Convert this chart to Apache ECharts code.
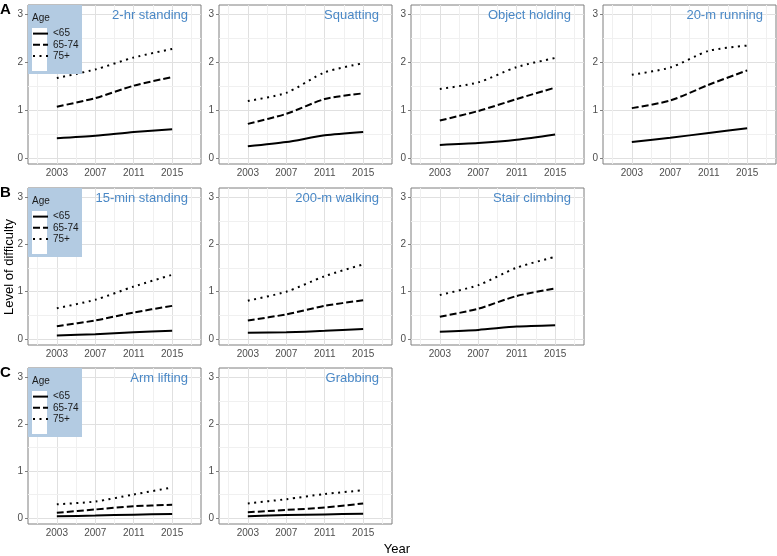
<!DOCTYPE html>
<html>
<head>
<meta charset="utf-8">
<script src="https://cdn.jsdelivr.net/npm/echarts@6/dist/echarts.min.js"></script>
<style>
html,body{margin:0;padding:0;background:#fff;}
#chart{width:777px;height:556px;}
</style>
</head>
<body>
<div id="chart"></div>
<script>
// ---------------- data ----------------
const years = [2003, 2007, 2011, 2015];
const ageGroups = ['<65', '65-74', '75+'];
const panelNames = ['2-hr standing', 'Squatting', 'Object holding', '20-m running',
                    '15-min standing', '200-m walking', 'Stair climbing',
                    'Arm lifting', 'Grabbing'];
// values per panel (same order as panelNames), per year
const under65 = [
  [0.41, 0.46, 0.54, 0.60],
  [0.24, 0.33, 0.47, 0.54],
  [0.27, 0.31, 0.38, 0.49],
  [0.33, 0.42, 0.52, 0.62],
  [0.07, 0.10, 0.14, 0.17],
  [0.13, 0.14, 0.17, 0.21],
  [0.15, 0.19, 0.26, 0.29],
  [0.035, 0.05, 0.07, 0.085],
  [0.035, 0.06, 0.075, 0.09]
];
const age65to74 = [
  [1.07, 1.25, 1.51, 1.69],
  [0.71, 0.92, 1.23, 1.35],
  [0.78, 0.98, 1.23, 1.47],
  [1.04, 1.20, 1.53, 1.83],
  [0.27, 0.39, 0.56, 0.70],
  [0.39, 0.52, 0.70, 0.82],
  [0.47, 0.64, 0.91, 1.07],
  [0.11, 0.18, 0.25, 0.28],
  [0.12, 0.17, 0.22, 0.31]
];
const age75plus = [
  [1.67, 1.85, 2.10, 2.28],
  [1.19, 1.36, 1.79, 1.98],
  [1.44, 1.58, 1.90, 2.09],
  [1.74, 1.89, 2.24, 2.35],
  [0.65, 0.83, 1.11, 1.36],
  [0.81, 1.00, 1.33, 1.58],
  [0.93, 1.14, 1.51, 1.74],
  [0.29, 0.35, 0.50, 0.65],
  [0.31, 0.40, 0.51, 0.59]
];
const xTickLabels = [2003, 2007, 2011, 2015];
const yTickLabels = [0, 1, 2, 3];
const xMinorGrid = [2001, 2005, 2009, 2013, 2017];
const yMinorGrid = [0.5, 1.5, 2.5];
const rowLetters = ['A', 'B', 'C'];
const legendTitle = 'Age';
const xAxisTitle = 'Year';
const yAxisTitle = 'Level of difficulty';

// ---------------- layout ----------------
const FONT = 'Liberation Sans, Arial, Helvetica, sans-serif';
const colLeft = [28, 219, 411, 603];
const panelW = 173;
const rowTop = [5, 188, 368];
const rowH = [159, 157, 156];
const panelPos = [[0,0],[0,1],[0,2],[0,3],[1,0],[1,1],[1,2],[2,0],[2,1]];
const seriesValues = [under65, age65to74, age75plus];
const lineTypes = ['solid', [7, 3], [2, 4.5]];
const TITLE_COLOR = '#4a88c6';
const TICK_COLOR = '#4d4d4d';

const grids = [], xAxes = [], yAxes = [], series = [], titles = [], legends = [], graphics = [];

panelPos.forEach(([r, c], i) => {
  const left = colLeft[c], top = rowTop[r], h = rowH[r];
  grids.push({
    left: left, top: top, width: panelW, height: h,
    show: true, borderColor: '#7f7f7f', borderWidth: 1, backgroundColor: '#fff',
    containLabel: false
  });
  xAxes.push({
    type: 'value', gridIndex: i, min: 2000, max: 2018,
    axisLine: {show: false},
    splitLine: {show: false},
    axisTick: {show: true, length: 3, lineStyle: {color: '#7f7f7f'}, customValues: xTickLabels},
    axisLabel: {customValues: xTickLabels, color: TICK_COLOR, fontSize: 10, fontFamily: FONT, margin: 4,
                formatter: v => String(v)}
  });
  yAxes.push({
    type: 'value', gridIndex: i, min: -0.13, max: 3.2,
    axisLine: {show: false},
    splitLine: {show: false},
    axisTick: {show: true, length: 3, lineStyle: {color: '#7f7f7f'}, customValues: yTickLabels},
    axisLabel: {customValues: yTickLabels, color: TICK_COLOR, fontSize: 10, fontFamily: FONT, margin: 5,
                formatter: v => String(v)}
  });
  const gridLines = [];
  xTickLabels.forEach(v => gridLines.push({xAxis: v, lineStyle: {color: '#e0e0e0', width: 1, type: 'solid'}}));
  yTickLabels.forEach(v => gridLines.push({yAxis: v, lineStyle: {color: '#e0e0e0', width: 1, type: 'solid'}}));
  xMinorGrid.forEach(v => gridLines.push({xAxis: v, lineStyle: {color: '#f0f0f0', width: 1, type: 'solid'}}));
  yMinorGrid.forEach(v => gridLines.push({yAxis: v, lineStyle: {color: '#f0f0f0', width: 1, type: 'solid'}}));

  ageGroups.forEach((g, k) => {
    const s = {
      type: 'line', name: g, xAxisIndex: i, yAxisIndex: i,
      data: years.map((y, j) => [y, seriesValues[k][i][j]]),
      symbol: 'none', smooth: 0.25, z: 3,
      lineStyle: {color: '#000', width: 2, type: lineTypes[k], cap: 'butt'},
      itemStyle: {color: '#000'},
      emphasis: {disabled: true},
      silent: true
    };
    if (k === 0) {
      s.markLine = {silent: true, symbol: ['none', 'none'], label: {show: false}, z: 1,
                    animation: false, emphasis: {disabled: true}, data: gridLines};
    }
    series.push(s);
  });

  titles.push({
    text: panelNames[i], right: 777 - (left + panelW) + 13, top: top + 4, padding: 0,
    textStyle: {color: TITLE_COLOR, fontSize: 13, fontWeight: 'normal', fontFamily: FONT}
  });

  if (c === 0) {
    graphics.push({type: 'rect', z: 20, shape: {x: left, y: top, width: 54, height: 69},
                   style: {fill: '#b3cbe2'}});
    graphics.push({type: 'rect', z: 21, shape: {x: left + 4, y: top + 23, width: 15, height: 43},
                   style: {fill: '#ffffff'}});
    graphics.push({type: 'text', z: 22, x: left + 4, y: top + 13,
                   style: {text: legendTitle, fill: '#1a1a1a', fontSize: 10, fontFamily: FONT,
                           textAlign: 'left', textVerticalAlign: 'middle'}});
    legends.push({
      data: ageGroups, orient: 'vertical', left: left + 4, top: top + 23,
      itemWidth: 15, itemHeight: 14, itemGap: 0, padding: 0, z: 30, selectedMode: false,
      itemStyle: {opacity: 0, borderWidth: 0},
      lineStyle: {width: 2},
      textStyle: {fontSize: 10, color: '#1a1a1a', fontFamily: FONT, padding: [0, 0, 0, 0]}
    });
  }
});

rowLetters.forEach((t, r) => {
  graphics.push({type: 'text', z: 22, x: 0, y: [2, 185, 365][r],
                 style: {text: t, fill: '#000', fontSize: 15, fontWeight: 'bold', fontFamily: FONT,
                         textAlign: 'left', textVerticalAlign: 'top'}});
});
graphics.push({type: 'text', z: 22, x: 9, y: 267, rotation: Math.PI / 2,
               style: {text: yAxisTitle, fill: '#000', fontSize: 13, fontFamily: FONT,
                       textAlign: 'center', textVerticalAlign: 'middle'}});
graphics.push({type: 'text', z: 22, x: 397, y: 549,
               style: {text: xAxisTitle, fill: '#000', fontSize: 13, fontFamily: FONT,
                       textAlign: 'center', textVerticalAlign: 'middle'}});

const chart = echarts.init(document.getElementById('chart'), null, {renderer: 'canvas'});
chart.setOption({
  animation: false,
  backgroundColor: '#fff',
  title: titles,
  legend: legends,
  grid: grids,
  xAxis: xAxes,
  yAxis: yAxes,
  series: series,
  graphic: {elements: graphics}
});
</script>
</body>
</html>
